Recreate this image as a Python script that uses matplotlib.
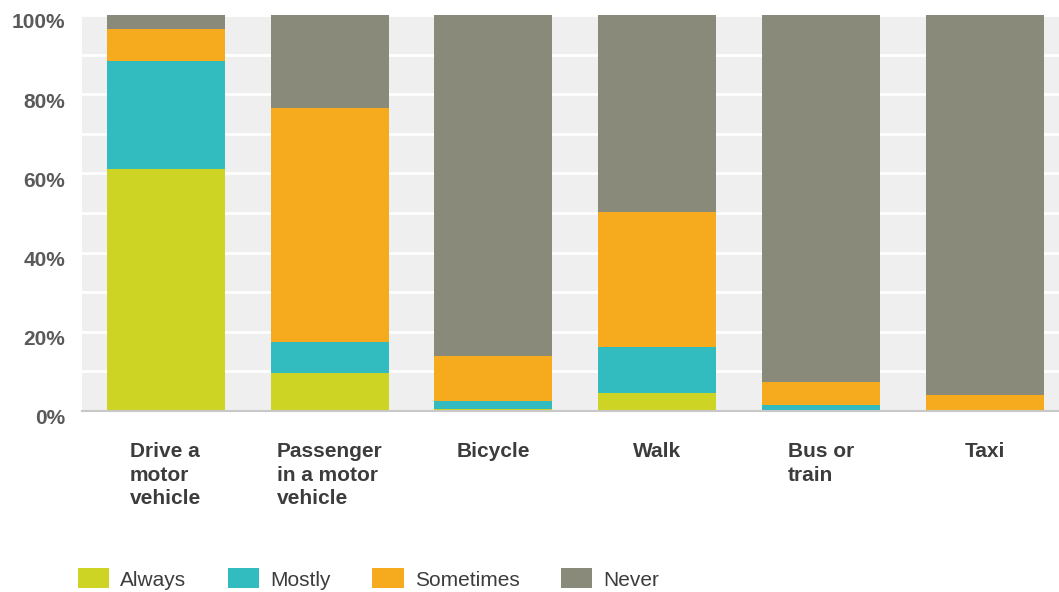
import numpy as np
import matplotlib
matplotlib.use("Agg")
import matplotlib.pyplot as plt
from matplotlib.patches import Patch
from matplotlib.ticker import MultipleLocator, FuncFormatter
import matplotlib.transforms as mtransforms

categorias = ["Drive a\nmotor\nvehicle", "Passenger\nin a motor\nvehicle", "Bicycle",
              "Walk", "Bus or\ntrain", "Taxi"]
series = ["Always", "Mostly", "Sometimes", "Never"]
always = [61.0, 9.5, 0.5, 4.5, 0.0, 0.0]
mostly = [27.5, 8.0, 2.0, 11.7, 1.5, 0.0]
sometimes = [8.0, 59.0, 11.5, 34.1, 5.9, 4.0]
never = [3.5, 23.5, 86.0, 49.7, 92.6, 96.0]
colores = ["#cdd424", "#32bcc0", "#f5ab1d", "#898a7a"]

plt.rcParams["font.family"] = ["Liberation Sans", "DejaVu Sans"]

fig = plt.figure(figsize=(10.59, 5.92), dpi=100)
ax = fig.add_axes([82 / 1059, 1 - 411 / 592, 1 - 82 / 1059, 396 / 592])
ax.set_facecolor("#efefef")

x = np.arange(len(categorias))
base = np.zeros(len(categorias))
for vals, col, nombre in zip([always, mostly, sometimes, never], colores, series):
    ax.bar(x, vals, width=0.72, bottom=base, color=col, label=nombre, zorder=3)
    base += np.array(vals)

ax.set_xlim(-0.51, 5.45)
ax.set_ylim(0, 100)
ax.yaxis.set_major_locator(MultipleLocator(20))
ax.yaxis.set_minor_locator(MultipleLocator(10))
ax.yaxis.set_major_formatter(FuncFormatter(lambda v, p: f"{v:.0f}%"))
ax.grid(axis="y", which="both", color="white", linewidth=2, zorder=1)
ax.set_axisbelow(True)

for s in ["top", "right", "left"]:
    ax.spines[s].set_visible(False)
ax.spines["bottom"].set_color("#c8c8c8")
ax.spines["bottom"].set_linewidth(1.5)
ax.spines["bottom"].set_zorder(4)

ax.tick_params(axis="y", which="both", length=0, pad=12, labelsize=15, labelcolor="#5a5a5a")
ax.tick_params(axis="x", length=0, pad=22)
ax.set_xticks(x)
ax.set_xticklabels(categorias, fontsize=15, fontweight="bold", color="#3c3c3c",
                   multialignment="left", va="top", linespacing=1.33)
for lab in ax.get_yticklabels():
    lab.set_fontweight("bold")
    lab.set_transform(lab.get_transform() + mtransforms.ScaledTranslation(0, -6 / 100, fig.dpi_scale_trans))

# leyenda
handles = [Patch(facecolor=c, edgecolor="none", label=n) for c, n in zip(colores, series)]
fig.legend(handles=handles, loc="center left", bbox_to_anchor=(59 / 1059, 1 - 579 / 592), ncol=4,
           frameon=False, fontsize=15, handlelength=1.5, handleheight=1.1,
           handletextpad=0.53, columnspacing=2.0, labelcolor="#3c3c3c")

fig.savefig("out.png", dpi=100, facecolor="white")
